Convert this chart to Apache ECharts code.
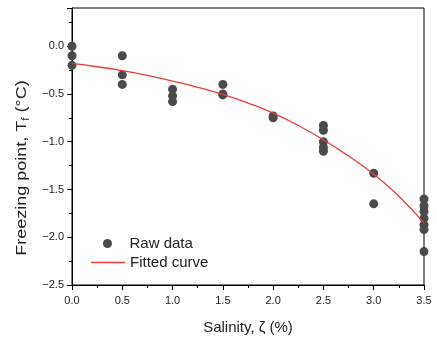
<!DOCTYPE html>
<html><head><meta charset="utf-8">
<script src="https://cdn.jsdelivr.net/npm/echarts@6/dist/echarts.min.js"></script>
<style>html,body{margin:0;padding:0;background:#fff}#c{width:437px;height:340px}</style>
</head><body><div id="c"></div>
<script>
// Raw data: salinity (%) and measured freezing point (°C)
const rawX = [0,0,0, 0.5,0.5,0.5, 1.0,1.0,1.0, 1.5,1.5,1.5, 2.0,2.0, 2.5,2.5,2.5,2.5,2.5, 3.0,3.0, 3.5,3.5,3.5,3.5,3.5,3.5,3.5];
const rawY = [0,-0.1,-0.2, -0.1,-0.3,-0.4, -0.45,-0.52,-0.58, -0.4,-0.5,-0.51, -0.73,-0.75, -0.83,-0.88,-1.0,-1.06,-1.1, -1.33,-1.65, -1.6,-1.67,-1.73,-1.8,-1.87,-1.92,-2.15];
// Fitted curve
const fitX = [0,0.25,0.5,0.75,1.0,1.25,1.5,1.75,2.0,2.25,2.5,2.75,3.0,3.25,3.5];
const fitY = [-0.18,-0.215,-0.255,-0.305,-0.365,-0.43,-0.505,-0.595,-0.70,-0.83,-0.98,-1.15,-1.34,-1.57,-1.85];
const xTicks = ['0.0','0.5','1.0','1.5','2.0','2.5','3.0','3.5'];
const yTicks = ['-2.5','-2.0','-1.5','-1.0','-0.5','0.0'];

const F = 'Liberation Sans, Arial, sans-serif';
const chart = echarts.init(document.getElementById('c'));
chart.setOption({
  animation:false,
  textStyle:{fontFamily:F},
  grid:{left:72,right:13,top:8,bottom:48,show:true,borderColor:'#000',borderWidth:1,backgroundColor:'transparent'},
  xAxis:{type:'value',min:0,max:3.5,interval:0.5,
    axisLine:{onZero:false,lineStyle:{color:'#000',width:1}},
    axisTick:{length:5,lineStyle:{color:'#000'}},
    minorTick:{show:true,splitNumber:2,length:3,lineStyle:{color:'#000'}},
    splitLine:{show:false},
    axisLabel:{color:'#222',fontSize:11,fontFamily:F,margin:10,
      formatter:v=>{const s=v.toFixed(1);return xTicks.includes(s)?s:'';}},
    name:'Salinity, ζ (%)',nameLocation:'middle',nameGap:35,
    nameTextStyle:{color:'#222',fontSize:15,fontFamily:F}},
  yAxis:{type:'value',min:-2.5,max:0.4,interval:0.5,
    axisLine:{onZero:false,lineStyle:{color:'#000',width:1}},
    axisTick:{length:5,lineStyle:{color:'#000'}},
    minorTick:{show:true,splitNumber:2,length:3,lineStyle:{color:'#000'}},
    splitLine:{show:false},
    axisLabel:{color:'#222',fontSize:11,fontFamily:F,margin:8,
      formatter:v=>{let s=v.toFixed(1);if(s==='-0.0')s='0.0';return yTicks.includes(s)?s.replace('-','\u2212'):'';}}},
  graphic:[{type:'text',x:22,y:168,rotation:Math.PI/2,scaleX:1.2,
    style:{text:'{a|Freezing point, T}{s|f}{a| (°C)}',align:'center',verticalAlign:'middle',
      rich:{a:{fontSize:15,fontFamily:F,fill:'#222'},s:{fontSize:10,fontFamily:F,fill:'#222',padding:[8,0,0,0]}}}}],
  legend:[
    {data:['Raw data'],left:98,top:231,itemWidth:34,itemHeight:9,
      textStyle:{fontSize:15,fontFamily:F,color:'#222'}},
    {data:[{name:'Fitted curve',icon:'rect'}],left:86,top:250,itemWidth:34,itemHeight:1.5,
      textStyle:{fontSize:15,fontFamily:F,color:'#222'}}
  ],
  series:[
    {name:'Raw data',type:'scatter',symbol:'circle',symbolSize:9,
     itemStyle:{color:'#4a4a4a',opacity:1},
     data:rawX.map((x,i)=>[x,rawY[i]]),z:3},
    {name:'Fitted curve',type:'line',smooth:true,showSymbol:false,symbol:'none',
     lineStyle:{color:'#ee3b3b',width:1.3},itemStyle:{color:'#ee3b3b'},
     data:fitX.map((x,i)=>[x,fitY[i]]),z:4}
  ]
});
</script></body></html>
